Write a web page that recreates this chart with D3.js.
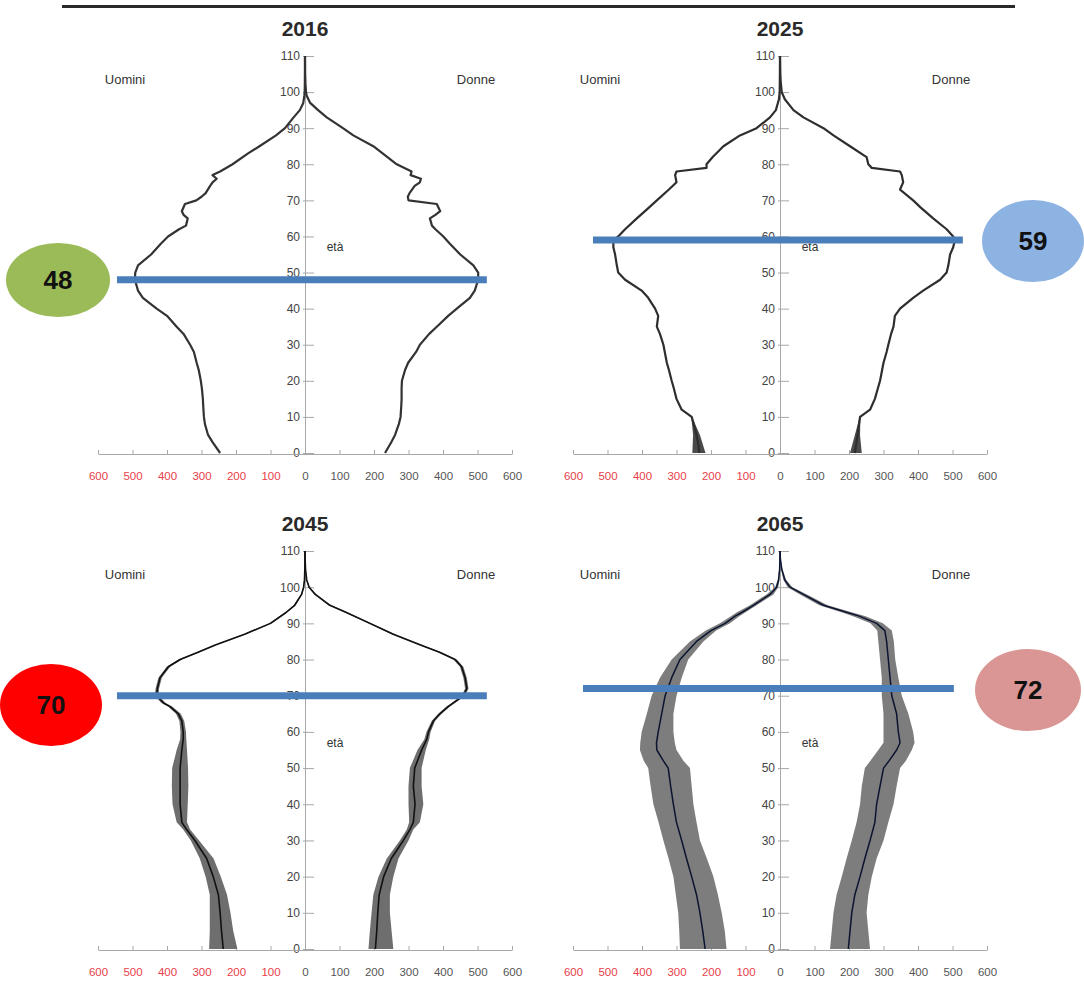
<!DOCTYPE html>
<html><head><meta charset="utf-8">
<script src="https://cdn.jsdelivr.net/npm/d3@7"></script>
<style>
body{margin:0;background:#fff;}
svg{display:block;font-family:"Liberation Sans",Arial,sans-serif;}
</style></head><body>
<svg id="c" width="1084" height="987"></svg>
<script>
// ---------------- DATA (thousands of people by age) ----------------
const years = ["2016","2025","2045","2065"];
const xTicks = [-600,-500,-400,-300,-200,-100,0,100,200,300,400,500,600];
const yTicks = [0,10,20,30,40,50,60,70,80,90,100,110];

const ages2016  = [0,3,5,8,10,13,15,18,20,23,25,28,30,33,35,38,40,43,45,48,50,52,55,58,60,62,63,65,66,67,69,70,71,72,74,75,76,77,78,80,83,85,88,90,93,95,97,99,100,102,105,110];
const men2016   = [246,268,281,290,293,295,296,299,302,308,314,322,333,352,372,400,430,470,484,493,492,484,446,418,397,365,345,340,352,357,348,315,300,288,275,268,256,268,246,210,165,132,84,58,33,15,5,2,1,0.5,0.3,0];
const women2016 = [232,250,261,272,277,279,280,280,281,290,299,322,333,360,382,415,440,478,492,502,502,488,450,420,401,378,368,362,378,392,382,300,298,303,318,333,336,306,309,266,225,198,140,110,63,38,15,5,3,1.5,0.5,0];

const ages2025  = [0,2,5,8,10,12,15,18,20,23,25,28,30,33,35,38,40,43,45,48,50,52,55,57,59,60,62,65,68,70,73,75,77,78,79,80,82,85,88,90,93,95,98,100,103,105,110];
const men2025   = [234,236,242,250,256,285,300,308,314,322,328,334,338,348,357,353,362,382,401,449,469,473,478,483,483,469,449,415,380,357,322,300,304,300,213,213,195,164,116,68,29,12,3,1,0.5,0.3,0];
const women2025 = [217,220,225,229,232,261,275,284,290,296,300,309,314,322,329,333,348,386,415,464,483,488,493,502,507,502,483,444,408,386,348,357,353,348,266,256,251,203,155,126,68,39,14,5,2,1,0];
const bandAges2025 = [0,5,10];
const men2025Lo    = [216,232,255];
const men2025Hi    = [254,252,257];
const women2025Lo  = [203,217,231];
const women2025Hi  = [237,232,233];

const ages2045    = [0,5,10,15,20,25,30,33,35,40,45,50,55,58,60,63,65,67,68,70,72,75,78,80,82,84,87,90,93,95,98,100,102,105,108,110];
const men2045     = [237,242,246,251,266,285,319,343,357,362,362,362,357,353,353,357,367,391,410,430,428,420,396,362,310,260,175,100,55,30,10,4,1.5,0.5,0.2,0];
const men2045Lo   = [196,208,216,226,244,265,307,333,342,340,338,339,342,344,345,350,360,385,404,424,423,415,391,357,305,256,171,96,52,27,8,2.5,0.5,0.2,0.1,0];
const men2045Hi   = [278,276,276,276,288,305,331,353,372,384,386,385,372,362,361,364,374,397,416,436,433,425,401,367,315,264,179,104,58,33,12,5.5,2.5,0.8,0.3,0];
const women2045   = [204,208,211,215,228,250,285,304,314,319,314,318,338,353,358,372,391,415,430,459,469,464,454,435,390,335,256,188,120,72,30,12,5,1.5,0.3,0];
const women2045Lo = [184,188,193,198,213,237,275,295,302,300,300,304,326,346,352,367,386,410,425,454,464,459,449,430,385,330,251,183,116,68,27,10,4,1,0.2,0];
const women2045Hi = [256,251,246,246,256,271,300,314,333,343,338,338,350,360,364,377,396,420,435,464,474,469,459,440,395,340,261,193,124,76,33,14,6,2,0.4,0];

const ages2065    = [0,5,10,15,20,25,30,35,40,45,50,52,55,57,60,65,70,75,80,85,88,90,92,93,95,98,100,102,105,108,110];
const men2065     = [217,224,232,242,256,271,285,300,309,317,324,338,357,358,353,343,333,314,290,242,200,159,130,111,77,29,10,4,1,0.3,0];
const men2065Lo   = [155,160,169,180,193,212,232,242,251,256,261,280,300,305,309,309,300,285,266,222,185,145,118,101,68,19,5,1.5,0.3,0.1,0];
const men2065Hi   = [290,292,295,302,309,323,338,352,367,375,382,395,406,405,401,386,372,348,314,261,215,174,142,126,87,39,14,7,2,0.6,0];
const women2065   = [198,203,208,217,232,246,261,275,280,290,300,316,338,348,343,338,324,319,314,309,304,280,230,195,126,68,29,14,5,1,0];
const women2065Lo = [145,150,155,164,179,193,208,222,232,237,246,262,285,300,300,300,295,295,290,285,282,262,212,180,114,58,22,10,3,0.5,0];
const women2065Hi = [261,256,251,256,266,280,300,314,329,338,348,365,382,390,386,372,353,343,334,330,324,298,248,210,138,78,36,18,7,1.5,0];

const markerAges   = [48,59,70,72];
const markerFrom   = [-545,-542,-545,-571];
const markerTo     = [527,530,527,504];
const markerLabels = ["48","59","70","72"];

// ---------------- LAYOUT / STYLE ----------------
const layout = [
  {cx:305, top:56,  bot:453},
  {cx:780, top:56,  bot:453},
  {cx:305, top:551, bot:949},
  {cx:780, top:551, bot:949}
];
const bubbles = [
  {x:58,   y:280, rx:52, ry:37, fill:"#9BBB59"},
  {x:1033, y:241, rx:51, ry:41, fill:"#8DB3E2"},
  {x:51,   y:705, rx:51, ry:41, fill:"#FF0000"},
  {x:1028, y:690, rx:53, ry:41, fill:"#D99694"}
];

const panels = [
  {year:years[0], ages:ages2016, men:men2016, women:women2016, line:"#333", lw:2.2},
  {year:years[1], ages:ages2025, men:men2025, women:women2025, line:"#2e2e2e", lw:2.2,
   band:{ages:bandAges2025, menLo:men2025Lo, menHi:men2025Hi, womenLo:women2025Lo, womenHi:women2025Hi, fill:"#4a4a4a"}},
  {year:years[2], ages:ages2045, men:men2045, women:women2045, line:"#111", lw:1.6,
   band:{ages:ages2045, menLo:men2045Lo, menHi:men2045Hi, womenLo:women2045Lo, womenHi:women2045Hi, fill:"#6e6e6e"}},
  {year:years[3], ages:ages2065, men:men2065, women:women2065, line:"#0b1430", lw:1.5,
   band:{ages:ages2065, menLo:men2065Lo, menHi:men2065Hi, womenLo:women2065Lo, womenHi:women2065Hi, fill:"#7d7d7d"}}
];

const svg = d3.select("#c");
svg.append("line").attr("x1",62).attr("x2",1015).attr("y1",6.5).attr("y2",6.5)
   .attr("stroke","#2a2a2a").attr("stroke-width",3);

panels.forEach((p,i) => {
  const L = layout[i];
  const g = svg.append("g");
  const x = d3.scaleLinear().domain([-600,600]).range([L.cx-207, L.cx+207]);
  const y = d3.scaleLinear().domain([0,110]).range([L.bot, L.top]);

  // axes
  const ya = g.append("g").attr("transform",`translate(${x(0)},0)`)
    .call(d3.axisLeft(y).tickValues(yTicks).tickSizeInner(-9).tickSizeOuter(0).tickPadding(5));
  ya.select(".domain").attr("stroke","#a8a8a8");
  ya.selectAll(".tick line").attr("stroke","#a8a8a8").attr("x1",-2);
  ya.selectAll(".tick text").attr("font-size",12).attr("fill","#444")
    .attr("font-family","Liberation Sans, Arial, sans-serif");

  const xa = g.append("g").attr("transform",`translate(0,${L.bot+1})`)
    .call(d3.axisBottom(x).tickValues(xTicks).tickSizeInner(-4).tickSizeOuter(0).tickPadding(18)
      .tickFormat(d => Math.abs(d)));
  xa.select(".domain").attr("stroke","#a8a8a8");
  xa.selectAll(".tick line").attr("stroke","#a8a8a8");
  xa.selectAll(".tick text").attr("font-size",11.5)
    .attr("font-family","Liberation Sans, Arial, sans-serif")
    .attr("fill", d => d < 0 ? "#e8404a" : "#555");

  // labels
  g.append("text").attr("x",L.cx).attr("y",L.top-20).attr("text-anchor","middle")
    .attr("font-size",21).attr("font-weight","bold").attr("fill","#2a2a2a").text(p.year);
  g.append("text").attr("x",L.cx-180).attr("y",L.top+28).attr("text-anchor","middle")
    .attr("font-size",13).attr("fill","#333").text("Uomini");
  g.append("text").attr("x",L.cx+171).attr("y",L.top+28).attr("text-anchor","middle")
    .attr("font-size",13).attr("fill","#333").text("Donne");
  g.append("text").attr("x",L.cx+30).attr("y",y(57)+4).attr("text-anchor","middle")
    .attr("font-size",12).attr("fill","#333").text("età");

  // uncertainty bands
  if (p.band) {
    const b = p.band;
    const idx = d3.range(b.ages.length);
    const menArea = d3.area().y(k => y(b.ages[k])).x0(k => x(-b.menLo[k])).x1(k => x(-b.menHi[k]));
    const womArea = d3.area().y(k => y(b.ages[k])).x0(k => x(b.womenLo[k])).x1(k => x(b.womenHi[k]));
    g.append("path").attr("d", menArea(idx)).attr("fill", b.fill);
    g.append("path").attr("d", womArea(idx)).attr("fill", b.fill);
  }

  // median lines
  const idx = d3.range(p.ages.length);
  const menLine = d3.line().x(k => x(-p.men[k])).y(k => y(p.ages[k]));
  const womLine = d3.line().x(k => x(p.women[k])).y(k => y(p.ages[k]));
  g.append("path").attr("d", menLine(idx)).attr("fill","none").attr("stroke",p.line)
    .attr("stroke-width",p.lw).attr("stroke-linejoin","round");
  g.append("path").attr("d", womLine(idx)).attr("fill","none").attr("stroke",p.line)
    .attr("stroke-width",p.lw).attr("stroke-linejoin","round");

  // highlighted modal age
  g.append("line").attr("x1",x(markerFrom[i])).attr("x2",x(markerTo[i]))
    .attr("y1",y(markerAges[i])).attr("y2",y(markerAges[i]))
    .attr("stroke","#4A7EBB").attr("stroke-width",7);

  const B = bubbles[i];
  svg.append("ellipse").attr("cx",B.x).attr("cy",B.y).attr("rx",B.rx).attr("ry",B.ry).attr("fill",B.fill);
  svg.append("text").attr("x",B.x).attr("y",B.y).attr("text-anchor","middle").attr("dominant-baseline","central")
    .attr("font-size",26).attr("font-weight","bold").attr("fill","#111").text(markerLabels[i]);
});
</script>
</body></html>
